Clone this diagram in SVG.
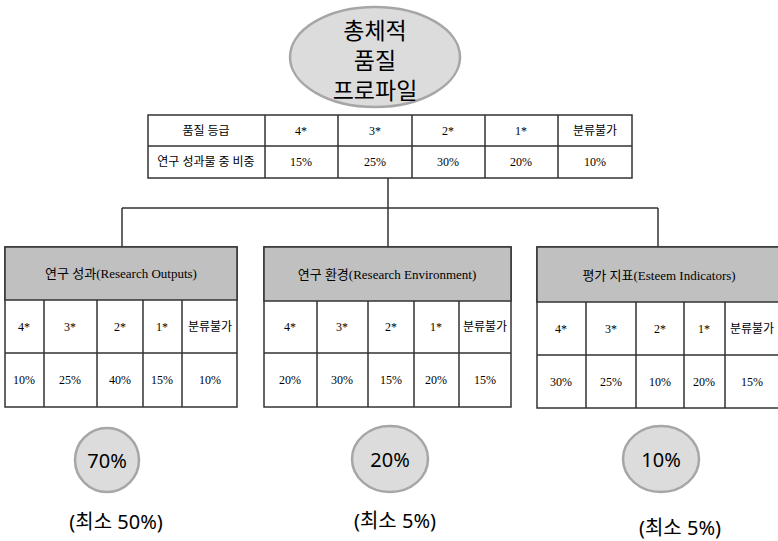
<svg xmlns="http://www.w3.org/2000/svg" width="778" height="541" viewBox="0 0 778 541">
<style>
.t{font-family:"Liberation Serif","Noto Sans CJK KR",serif;font-size:12px;fill:#000;text-anchor:middle;dominant-baseline:central}
.h{font-size:13px}
.b{font-family:"Noto Sans","Noto Sans CJK KR",sans-serif;fill:#000;text-anchor:middle;dominant-baseline:central}
.ln{stroke:#333;stroke-width:1.5;fill:none}
.cell{fill:#fff;stroke:#333;stroke-width:1.5}
.hd{fill:#c0c0c0;stroke:#333;stroke-width:1.5}
.ov{fill:#dcdcdc;stroke:#a6a6a6;stroke-width:2.5}
</style>
<rect width="778" height="541" fill="#fff"/>
<g id="connectors" class="ln">
<path d="M388 178V208M122 208H658M122 208V247M388 208V247M658 208V247"/>
</g>
<g id="profile">
<ellipse class="ov" cx="375" cy="57" rx="85" ry="50"/>
<text class="b" x="375" y="30" font-size="23">총체적</text>
<text class="b" x="375" y="60" font-size="23">품질</text>
<text class="b" x="375" y="90" font-size="23">프로파일</text>
</g>
<g id="overall-table">
<rect class="cell" x="148" y="115" width="484" height="63"/>
<path class="ln" d="M148 146H632M265 115V178M338 115V178M412 115V178M485 115V178M558 115V178"/>
<text class="t" x="206" y="131">품질 등급</text>
<text class="t" x="301" y="131">4*</text>
<text class="t" x="375" y="131">3*</text>
<text class="t" x="448" y="131">2*</text>
<text class="t" x="521" y="131">1*</text>
<text class="t" x="595" y="131">분류불가</text>
<text class="t" x="206" y="162">연구 성과물 중 비중</text>
<text class="t" x="301" y="162">15%</text>
<text class="t" x="375" y="162">25%</text>
<text class="t" x="448" y="162">30%</text>
<text class="t" x="521" y="162">20%</text>
<text class="t" x="595" y="162">10%</text>
</g>
<g id="outputs">
<rect class="cell" x="5" y="247" width="232" height="160"/>
<rect class="hd" x="5" y="247" width="232" height="53"/>
<path class="ln" d="M5 353H237M44 300V407M97 300V407M143 300V407M182 300V407"/>
<text class="t h" x="121" y="273">연구 성과(Research Outputs)</text>
<text class="t" x="24" y="327">4*</text>
<text class="t" x="70" y="327">3*</text>
<text class="t" x="120" y="327">2*</text>
<text class="t" x="162" y="327">1*</text>
<text class="t" x="210" y="327">분류불가</text>
<text class="t" x="24" y="380">10%</text>
<text class="t" x="70" y="380">25%</text>
<text class="t" x="120" y="380">40%</text>
<text class="t" x="162" y="380">15%</text>
<text class="t" x="210" y="380">10%</text>
</g>
<g id="environment">
<rect class="cell" x="264" y="247" width="247" height="160"/>
<rect class="hd" x="264" y="247" width="247" height="54"/>
<path class="ln" d="M264 353H511M317 301V407M368 301V407M414 301V407M459 301V407"/>
<text class="t h" x="387" y="274">연구 환경(Research Environment)</text>
<text class="t" x="290" y="327">4*</text>
<text class="t" x="342" y="327">3*</text>
<text class="t" x="391" y="327">2*</text>
<text class="t" x="436" y="327">1*</text>
<text class="t" x="485" y="327">분류불가</text>
<text class="t" x="290" y="380">20%</text>
<text class="t" x="342" y="380">30%</text>
<text class="t" x="391" y="380">15%</text>
<text class="t" x="436" y="380">20%</text>
<text class="t" x="485" y="380">15%</text>
</g>
<g id="esteem">
<rect class="cell" x="537" y="247" width="250" height="161"/>
<rect class="hd" x="537" y="247" width="250" height="55"/>
<path class="ln" d="M537 355H787M586 302V408M636 302V408M684 302V408M725 302V408"/>
<text class="t h" x="659" y="275">평가 지표(Esteem Indicators)</text>
<text class="t" x="561" y="329">4*</text>
<text class="t" x="611" y="329">3*</text>
<text class="t" x="660" y="329">2*</text>
<text class="t" x="704" y="329">1*</text>
<text class="t" x="752" y="329">분류불가</text>
<text class="t" x="561" y="382">30%</text>
<text class="t" x="611" y="382">25%</text>
<text class="t" x="660" y="382">10%</text>
<text class="t" x="704" y="382">20%</text>
<text class="t" x="752" y="382">15%</text>
</g>
<g id="w-outputs">
<ellipse class="ov" cx="107" cy="460" rx="32" ry="32"/>
<text class="b" x="107" y="460" font-size="20">70%</text>
<text class="b" x="116" y="521" font-size="20">(최소 50%)</text>
</g>
<g id="w-environment">
<ellipse class="ov" cx="390" cy="459" rx="38" ry="33"/>
<text class="b" x="390" y="459" font-size="20">20%</text>
<text class="b" x="395" y="520" font-size="20">(최소 5%)</text>
</g>
<g id="w-esteem">
<ellipse class="ov" cx="661" cy="459" rx="38" ry="33"/>
<text class="b" x="661" y="459" font-size="20">10%</text>
<text class="b" x="680" y="527" font-size="20">(최소 5%)</text>
</g>
</svg>
